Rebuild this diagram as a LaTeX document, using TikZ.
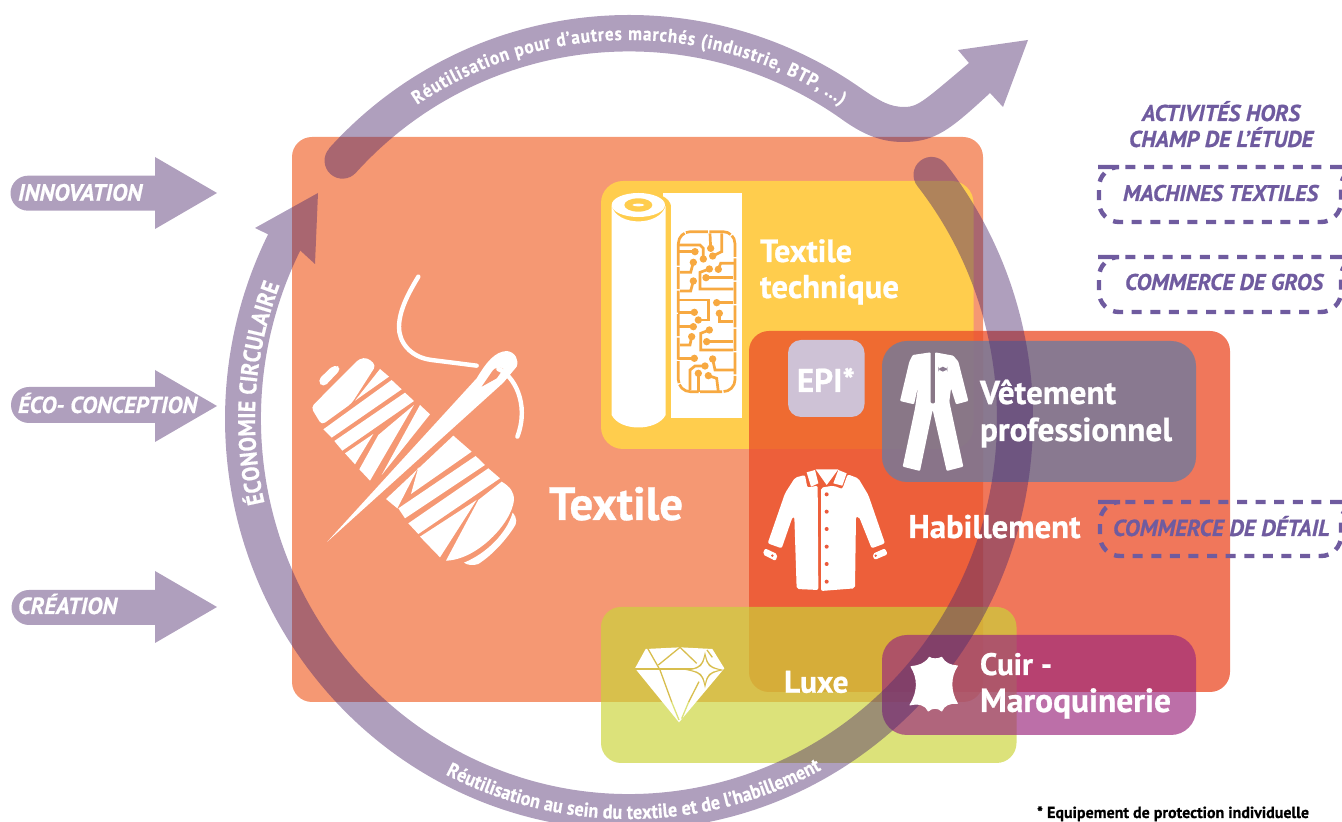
\documentclass[tikz,border=0pt]{standalone}
\usepackage{fontspec}
\usepackage{graphicx}
\setmainfont{PT Sans}[BoldFeatures={FakeBold=0.7},BoldItalicFeatures={FakeBold=0.7}]
\newfontfamily\ringf{PT Sans}[FakeStretch=0.9,BoldFeatures={FakeBold=0.6}]
\usetikzlibrary{calc,decorations.text}
\definecolor{arrowc}{RGB}{175,159,189}
\definecolor{ringc}{RGB}{78,42,109}
\definecolor{textilec}{RGB}{245,152,115}
\definecolor{techc}{RGB}{255,205,77}
\definecolor{habc}{RGB}{235,78,41}
\definecolor{luxc}{RGB}{203,212,57}
\definecolor{cuirc}{RGB}{155,40,125}
\definecolor{vetc}{RGB}{112,122,157}
\definecolor{vetsolid}{RGB}{138,122,144}
\definecolor{epic}{RGB}{206,194,214}
\definecolor{dashc}{RGB}{111,91,159}
\definecolor{circ}{RGB}{247,169,65}
\definecolor{goldc}{RGB}{216,190,78}
\definecolor{limec}{RGB}{220,226,122}
\definecolor{shirtbg}{RGB}{235,90,60}
\tikzset{
  ringshape/.style={fill=ringc,fill opacity=.45},
  ic/.style={fill=white},
  thr/.style={draw=white,line width=4.4pt,line cap=round},
  ctl/.style={draw=circ,line width=2.7pt},
  facet/.style={line width=1.3pt},
  dbox/.style={draw=dashc,line width=4.4pt,dash pattern=on 10pt off 8.6pt,rounded corners=20pt},
  lbl/.style={anchor=base west,inner sep=0pt,outer sep=0pt},
}
% name, x, baseline y, width, colour, font, text
\newcommand\lbl[7]{\node[lbl,text=#5] (#1) at (#2,#3) {\resizebox{#4pt}{!}{#6#7}};}
\newcommand\cdt[2]{\fill[circ] (#1,#2) circle[radius=11];}
\begin{document}
\begin{tikzpicture}[x=1pt,y=1pt]
\useasboundingbox (0,0) rectangle (1342,822);
\begin{scope}[yshift=822pt,yscale=-1]
\coordinate (c) at (629,419);
% panels
\fill[textilec,rounded corners=20pt] (292,137) rectangle (983,702);
\fill[techc,rounded corners=22pt] (601,181) rectangle (973.5,449);
\fill[habc,fill opacity=.77,rounded corners=20pt] (749,331) rectangle (1230,692);
\fill[luxc,fill opacity=.67,rounded corners=20pt] (601,607) rectangle (1016.5,763);
\fill[cuirc,fill opacity=.67,rounded corners=25pt] (882,635) rectangle (1196,735);
\fill[vetc,fill opacity=.8,rounded corners=25pt] (882,341) rectangle (1196,482);
\fill[epic,rounded corners=13pt] (788,340) rectangle (864.5,417);
% left arrows
\fill[arrowc] (28,175.7) -- (155,175.7) -- (155,157) -- (217,193) -- (155,229) -- (155,210.7) -- (28,210.7) arc[start angle=90,end angle=270,radius=17.5] -- cycle;
\fill[arrowc] (29,387) -- (155,387) -- (155,370) -- (217,406) -- (155,442) -- (155,423) -- (29,423) arc[start angle=90,end angle=270,radius=18] -- cycle;
\fill[arrowc] (29,590) -- (155,590) -- (155,571) -- (217,607) -- (155,643) -- (155,625) -- (29,625) arc[start angle=90,end angle=270,radius=17.5] -- cycle;
% big ring
\fill[ringshape] ($(c)+(-38.4:404 and 411)$) arc[start angle=-38.4,end angle=206.7,x radius=404,y radius=411] -- (255,228) -- (318,193) -- (315,264) -- ($(c)+(206.7:368 and 375)$) arc[start angle=206.7,end angle=-38.4,x radius=368,y radius=375] arc[start angle=141.6,end angle=321.6,radius=18] -- cycle;
% top arrow
\fill[ringshape] ($(c)+(222.1:404)$) arc[start angle=222.1,end angle=305,radius=404]
  .. controls (881,102) and (890,107) .. (905,107)
  .. controls (918,107) and (925,100) .. (969,63) -- (958,50) -- (1028,40) -- (1003,107) -- (990,93)
  .. controls (950,130) and (935,142) .. (903,142)
  .. controls (880,142) and (862,134) .. (840,118)
  arc[start angle=305,end angle=222.1,radius=368]
  arc[start angle=42.1,end angle=222.1,radius=18] -- cycle;
% dashed boxes
\draw[dbox] (1360,167) -- (1118,167) -- (1099,167) -- (1099,222) -- (1341,222) -- (1341,167) -- cycle;
\draw[dbox] (1360,257) -- (1118,257) -- (1099,257) -- (1099,312) -- (1341,312) -- (1341,257) -- cycle;
\draw[dbox] (1360,502) -- (1118,502) -- (1100,502) -- (1100,556) -- (1341,556) -- (1341,502) -- cycle;
% thread icon
\begin{scope}[shift={(310,270)},scale=1/3]
\fill[ic,rounded corners=5pt] (22,332) -- (73,283) -- (95,295) -- (40,353) -- cycle;
\fill[ic,rounded corners=4pt] (3,412) -- (148,266) -- (172,263) -- (198,286) -- (125,400) -- (35,465) -- cycle;
\fill[ic] (210,297) -- (237,320) -- (135,392) -- cycle;
\fill[ic] (245,330) -- (275,358) -- (65,503) -- (40,478) -- cycle;
\fill[ic] (285,368) -- (312,393) -- (97,542) -- (73,513) -- cycle;
\fill[ic] (190,492) -- (135,583) -- (105,550) -- cycle;
\fill[ic] (312,405) -- (180,632) -- (148,598) -- (205,495) -- cycle;
\fill[ic] (330,405) -- (360,433) -- (215,615) -- cycle;
\fill[ic] (430,497) -- (485,545) -- (303,672) -- (325,592) -- (262,715) -- (228,687) -- cycle;
\fill[ic] (497,558) -- (525,585) -- (285,745) -- (265,715) -- cycle;
\fill[ic] (535,595) -- (570,625) -- (325,792) -- (295,760) -- cycle;
\fill[ic] (500,690) -- (390,862) -- (330,800) -- cycle;
\fill[ic] (575,635) .. controls (600,650) and (612,665) .. (612,690) .. controls (605,760) and (500,870) .. (408,872) -- (505,690) -- cycle;
\fill[ic] (608,728) .. controls (622,745) and (622,760) .. (610,775) .. controls (580,820) and (540,860) .. (505,882) .. controls (490,888) and (470,885) .. (462,878) .. controls (530,850) and (590,790) .. (608,728) -- cycle;
\fill[ic] (52,815) -- (500,325) .. controls (530,275) and (555,245) .. (590,243) .. controls (615,245) and (628,270) .. (620,290) -- (580,338) -- cycle;
\fill[textilec] (515,350) -- (548,302) .. controls (555,292) and (570,290) .. (580,297) -- (560,325) -- cycle;
\draw[thr] (325,20) .. controls (295,70) and (268,120) .. (267,170) .. controls (266,215) and (300,262) .. (365,270) -- (500,287);
\draw[thr] (565,297) .. controls (610,315) and (660,400) .. (622,500);
\end{scope}
\lbl{textile}{549}{520}{134}{white}{\bfseries}{Textile}
% roll icon
\begin{scope}[shift={(600,185)},scale=1/3]
\fill[ic] (190,25) rectangle (427,698);
\fill[techc] (117,65) ellipse[x radius=96,y radius=47];
\fill[techc] (150,60) rectangle (213,710);
\fill[ic] (35,62) -- (35,690) .. controls (60,740) and (170,740) .. (197,690) -- (197,62) .. controls (180,125) and (50,125) .. (35,62) -- cycle;
\fill[ic] (115,60) ellipse[x radius=80,y radius=36];
\fill[techc] (115,60) ellipse[x radius=42,y radius=20];
\fill[ic] (115,60) ellipse[x radius=18,y radius=4];
\draw[ctl,dash pattern=on 22pt off 1.5pt,rounded corners=12pt] (235,140) rectangle (405,620);
\draw[ctl] (235,180) -- (300,180) -- (310,190) -- (310,222);
\draw[ctl] (235,200) -- (285,200);
\draw[ctl] (240,262) -- (272,262) -- (280,232);
\draw[ctl] (240,318) -- (272,318) -- (280,288);
\draw[ctl] (330,145) -- (332,190);
\draw[ctl] (365,145) -- (365,200) -- (338,213);
\draw[ctl] (405,235) -- (362,235) -- (355,253);
\draw[ctl] (400,312) -- (300,312) -- (300,262) -- (328,252);
\draw[ctl] (318,278) -- (400,278);
\draw[ctl] (235,345) -- (325,345) -- (325,405) -- (295,405);
\draw[ctl] (235,382) -- (283,382);
\draw[ctl] (350,353) -- (400,353);
\draw[ctl] (358,385) -- (358,410) -- (400,410);
\draw[ctl] (235,425) -- (280,425);
\draw[ctl] (240,480) -- (270,480) -- (275,455);
\draw[ctl] (400,495) -- (302,495) -- (302,445) -- (328,435);
\draw[ctl] (320,470) -- (400,470);
\draw[ctl] (235,520) -- (283,520);
\draw[ctl] (338,522) -- (345,555) -- (405,555);
\draw[ctl] (270,615) -- (270,555) -- (285,543) -- (315,543);
\draw[ctl] (295,565) -- (295,620);
\draw[ctl] (325,572) -- (350,580) -- (355,620);
\cdt{310}{222}\cdt{285}{200}\cdt{280}{232}\cdt{280}{288}\cdt{332}{190}\cdt{338}{213}\cdt{355}{253}\cdt{328}{252}\cdt{318}{278}
\cdt{295}{405}\cdt{283}{382}\cdt{350}{353}\cdt{358}{385}\cdt{280}{425}\cdt{275}{455}\cdt{328}{435}\cdt{320}{470}\cdt{283}{520}\cdt{338}{522}\cdt{315}{543}\cdt{295}{565}\cdt{325}{572}
\end{scope}
\lbl{tech1}{760}{262}{92}{white}{\bfseries}{Textile}
\lbl{tech2}{760}{298}{139}{white}{\bfseries}{technique}
\lbl{epi}{797}{392}{58}{white}{\bfseries}{EPI*}
% overall icon
\begin{scope}[shift={(890,345)},scale=1/3]
\fill[ic,rounded corners=1pt] (122,22) -- (68,30) -- (58,50) -- (30,168) -- (72,178) -- (85,120) -- (75,190) -- (38,365) -- (90,378) -- (128,195) -- (170,378) -- (220,365) -- (178,170) -- (183,130) -- (198,178) -- (235,168) -- (205,50) -- (190,32) -- (135,22) -- (135,175) -- (122,175) -- cycle;
\fill[vetsolid,rounded corners=5pt] (145,65) rectangle (172,80);
\end{scope}
\lbl{vet1}{980}{404}{136}{white}{\bfseries}{Vêtement}
\lbl{vet2}{980}{441}{192}{white}{\bfseries}{professionnel}
% shirt icon
\begin{scope}[shift={(755,465)},scale=1/3]
\fill[ic,rounded corners=2pt] (120,38) -- (150,30) -- (157,68) -- (188,62) -- (190,375) -- (125,372) -- (118,155) -- (113,155) -- (80,250) -- (38,235) -- (90,85) -- cycle;
\fill[ic,rounded corners=2pt] (198,68) -- (235,62) -- (262,72) -- (278,28) -- (310,40) -- (340,90) -- (390,235) -- (350,250) -- (312,155) -- (303,155) -- (300,370) -- (198,378) -- cycle;
\fill[ic] (155,22) -- (180,15) -- (190,55) -- (168,65) -- cycle;
\fill[ic] (250,15) -- (275,25) -- (262,62) -- (235,55) -- cycle;
\fill[ic] (182,13) -- (250,13) -- (215,60) -- cycle;
\fill[ic,rounded corners=2pt] (30,250) -- (68,268) -- (62,288) -- (23,268) -- cycle;
\fill[ic,rounded corners=2pt] (352,267) -- (390,250) -- (398,268) -- (358,285) -- cycle;
\fill[shirtbg] (52,272) circle[radius=4];
\fill[shirtbg] (362,272) circle[radius=4];
\foreach \q in {88,140,192,245,297,350} {\fill[shirtbg] (215,\q) circle[radius=6];}
\end{scope}
\lbl{hab}{908.5}{538}{172}{white}{\bfseries}{Habillement}
% diamond icon
\begin{scope}[shift={(625,640)},scale=1/3]
\fill[ic] (62,27) -- (165,22) -- (262,27) -- (298,85) -- (162,247) -- (30,85) -- cycle;
\draw[goldc,facet] (30,87) -- (205,87);
\draw[goldc,facet] (68,25) -- (105,90) -- (140,186);
\draw[limec,facet] (140,186) -- (162,240);
\draw[goldc,facet] (100,75) -- (165,22) -- (215,70);
\draw[goldc,facet] (222,125) -- (191,186);
\draw[limec,facet] (191,186) -- (170,236);
\draw[goldc,facet] (246,30) -- (262,52);
\fill[goldc] (240,35) .. controls (248,75) and (255,82) .. (298,90) .. controls (255,98) and (248,105) .. (240,145) .. controls (232,105) and (225,98) .. (182,90) .. controls (225,82) and (232,75) .. (240,35) -- cycle;
\fill[ic] (240,50) .. controls (246,78) and (252,84) .. (282,90) .. controls (252,96) and (246,102) .. (240,130) .. controls (234,102) and (228,96) .. (198,90) .. controls (228,84) and (234,78) .. (240,50) -- cycle;
\end{scope}
\lbl{luxe}{784}{692.7}{64.5}{white}{\bfseries}{Luxe}
% leather icon
\begin{scope}[shift={(900,650)},scale=1/3]
\fill[ic,draw=white,line width=1pt,line join=round] (33,50) .. controls (55,48) and (75,42) .. (88,22) .. controls (95,28) and (115,28) .. (125,22) .. controls (135,40) and (150,46) .. (172,48) .. controls (150,80) and (150,125) .. (172,160) .. controls (150,158) and (132,165) .. (125,183) .. controls (115,172) and (95,172) .. (85,183) .. controls (78,165) and (55,158) .. (30,165) .. controls (55,125) and (55,85) .. (33,50) -- cycle;
\end{scope}
\lbl{cuir1}{980}{675}{72}{white}{\bfseries}{Cuir -}
\lbl{cuir2}{980}{712}{191}{white}{\bfseries}{Maroquinerie}
% italic labels
\lbl{inno}{18}{200.7}{124}{white}{\bfseries\itshape}{INNOVATION}
\lbl{eco}{18}{413}{179}{white}{\bfseries\itshape}{ÉCO- CONCEPTION}
\lbl{crea}{18}{614}{99}{white}{\bfseries\itshape}{CRÉATION}
\lbl{hors1}{1142}{121}{158}{dashc}{\bfseries\itshape}{ACTIVITÉS HORS}
\lbl{hors2}{1129}{147}{184}{dashc}{\bfseries\itshape}{CHAMP DE L’ÉTUDE}
\lbl{mach}{1123}{201}{195}{dashc}{\bfseries\itshape}{MACHINES TEXTILES}
\lbl{gros}{1125}{290}{198}{dashc}{\bfseries\itshape}{COMMERCE DE GROS}
\lbl{det}{1113}{536}{216.5}{dashc}{\bfseries\itshape}{COMMERCE DE DÉTAIL}
\lbl{note}{1037}{818}{272}{black}{\bfseries}{* Equipement de protection individuelle}
\end{scope}
% text on the ring (picture y = 822 - pixel y)
\coordinate (k) at (629,403);
\path[decorate,decoration={text along path,text align={fit to path},text={|\ringf\fontsize{24}{24}\selectfont\bfseries\color{white}|ÉCONOMIE CIRCULAIRE}}] ($(k)+(193:374)$) arc[start angle=193,end angle=159,radius=374];
\path[decorate,decoration={text along path,text align={fit to path},text={|\ringf\fontsize{19}{19}\selectfont\bfseries\color{white}|Réutilisation pour  d’autres marchés (industrie, BTP, ...)}}] ($(k)+(124:379)$) arc[start angle=124,end angle=56,radius=379];
\path[decorate,decoration={text along path,text align={fit to path},text={|\ringf\fontsize{20}{20}\selectfont\bfseries\color{white}|Réutilisation au sein du textile et de l’habillement}}] ($(k)+(242.7:400)$) arc[start angle=242.7,end angle=298.7,radius=400];
\end{tikzpicture}
\end{document}
